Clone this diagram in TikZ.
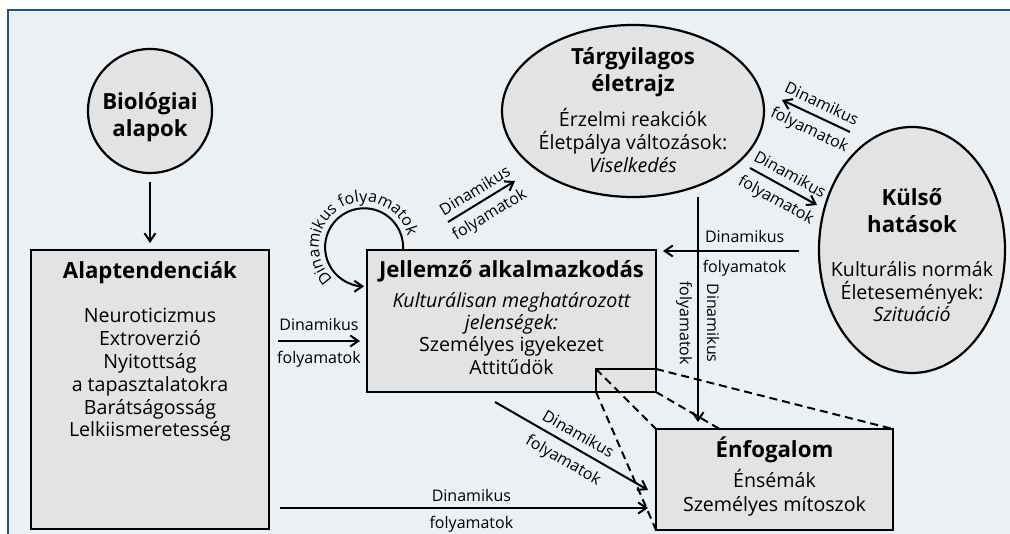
\documentclass[tikz,border=0pt]{standalone}
\usepackage{fontspec}
\setmainfont{Open Sans}
\usetikzlibrary{arrows.meta,shapes.geometric,decorations.text,calc}
\definecolor{bgpanel}{RGB}{236,240,243}
\definecolor{boxgrey}{RGB}{226,227,229}
\definecolor{frameblue}{RGB}{31,84,133}
\newcommand\fTitle{\fontsize{22.2}{26}\selectfont\bfseries}
\newcommand\fBody{\fontsize{19.6}{23}\selectfont}
\newcommand\fLbl{\fontsize{16}{18}\selectfont}
\pgfdeclarelayer{bg}
\pgfdeclarelayer{mid}
\pgfsetlayers{bg,mid,main}

\begin{document}
\begin{tikzpicture}[x=1pt,y=1pt,
  boxed/.style={draw, line width=2.6pt, fill=boxgrey, inner sep=0, outer sep=0},
  oval/.style={ellipse, draw, line width=2.2pt, fill=boxgrey, inner sep=0, outer sep=0},
  arr/.style={line width=2pt, -{Straight Barb[length=8pt,width=11pt]}},
  proj/.style={line width=2pt, dash pattern=on 8pt off 5pt},
  ttl/.style={anchor=base, inner sep=0, font=\fTitle},
  bdy/.style={anchor=base, inner sep=0, font=\fBody},
  lbl/.style={inner sep=0, outer sep=0, font=\fLbl},
  lblup/.style={lbl, sloped, anchor=south, outer sep=#1},
  lbldown/.style={lbl, sloped, anchor=north, outer sep=#1},
]
\useasboundingbox (0,0) rectangle (1010,534);

\begin{pgfonlayer}{bg}
  % page and panel
  \fill[white] (0,0) rectangle (1010,534);
  \fill[bgpanel] (8,0) rectangle (1010,524);
  \draw[frameblue, line width=2pt] (8,0) -- (8,524) -- (1010,524);
  % shapes
  \node[circle, draw, line width=2.2pt, fill=boxgrey, inner sep=0, outer sep=0, minimum size=124pt] (bio) at (150,423) {};
  \node[oval, minimum width=262pt, minimum height=172pt] (targy) at (633,423) {};
  \node[oval, minimum width=186pt, minimum height=246pt] (kulso) at (912,284) {};
  \node[boxed, minimum width=238pt, minimum height=279pt] (alap) at (150,144.5) {};
  \node[boxed, minimum width=289pt, minimum height=142pt] (jel) at (511.5,213) {};
  \node[draw, line width=2.6pt, inner sep=0, outer sep=0, minimum width=60pt, minimum height=23pt] (kicsi) at (626,153.5) {};
\end{pgfonlayer}

\node[boxed, minimum width=237pt, minimum height=101pt] (enf) at (774.5,54.5) {};

% magnified detail: corner lines from the small frame to the self-concept box
\begin{pgfonlayer}{mid}
  \draw[proj] (kicsi.north west) -- (enf.north west);
  \draw[proj] (kicsi.north east) -- (enf.north east);
  \draw[proj] (kicsi.south west) -- (enf.south west);
  \draw[proj] (kicsi.south east) -- (enf.south east);
\end{pgfonlayer}

% texts
\node[ttl] (bioT1) at (150,424) {Biológiai};
\node[ttl] (bioT2) at (150,397) {alapok};

\node[ttl] (alapT) at (150,255) {Alaptendenciák};
\node[bdy] (alap1) at (150,211) {Neuroticizmus};
\node[bdy] (alap2) at (150,188.2) {Extroverzió};
\node[bdy] (alap3) at (150,165.4) {Nyitottság};
\node[bdy] (alap4) at (150,142.6) {a tapasztalatokra};
\node[bdy] (alap5) at (150,119.8) {Barátságosság};
\node[bdy] (alap6) at (150,97) {Lelkiismeretesség};

\node[ttl] (jelT) at (511.5,256) {Jellemző alkalmazkodás};
\node[bdy] (jel1) at (511.5,226) {\itshape Kulturálisan meghatározott};
\node[bdy] (jel2) at (511.5,204) {\itshape jelenségek:};
\node[bdy] (jel3) at (511.5,182) {Személyes igyekezet};
\node[bdy] (jel4) at (511.5,159) {Attitűdök};

\node[ttl] (targyT1) at (633,469) {Tárgyilagos};
\node[ttl] (targyT2) at (633,442) {életrajz};
\node[bdy] (targy1) at (633,407) {Érzelmi reakciók};
\node[bdy] (targy2) at (633,384) {Életpálya változások:};
\node[bdy] (targy3) at (633,361) {\itshape Viselkedés};

\node[ttl] (kulsoT1) at (912,328) {Külső};
\node[ttl] (kulsoT2) at (912,301) {hatások};
\node[bdy] (kulso1) at (912,257) {Kulturális normák};
\node[bdy] (kulso2) at (912,234) {Életesemények:};
\node[bdy] (kulso3) at (912,212) {\itshape Szituáció};

\node[ttl] (enfT) at (774.5,76) {Énfogalom};
\node[bdy] (enf1) at (774.5,46) {Énsémák};
\node[bdy] (enf2) at (774.5,22) {Személyes mítoszok};

% connectors
\draw[arr] ([yshift=-9pt]bio.south) -- ([yshift=7pt]alap.north);

\draw[arr] ($(alap.east)+(9,48.5)$) -- ($(jel.west)+(-7,-20)$)
  node[midway, lbl, above=10pt] (l2a) {Dinamikus}
  node[midway, lbl, below=10pt] (l2b) {folyamatok};

% self loop on the adaptation box
\coordinate (lc) at ($(jel.north west)+(-3,3)$);
\draw[arr] ($(jel.north west)+(36,0)$) arc[start angle=-4, end angle=270, radius=39];
\path[decorate, decoration={text along path, text={|\fLbl|Dinamikus folyamatok}, text align=center}]
  ($(lc)+(240:45)$) arc[start angle=240, end angle=0, radius=45];

\draw[arr] ($(jel.north west)+(81,28)$) -- ($(targy.center)+(-118,-70)$)
  node[midway, lblup=7pt] (l4a) {Dinamikus}
  node[midway, lbldown=8pt] (l4b) {folyamatok};

\draw[arr] ($(kulso.center)+(-62,118)$) -- ($(targy.center)+(149,11)$)
  node[midway, lblup=8pt] (l5a) {Dinamikus}
  node[midway, lbldown=8pt] (l5b) {folyamatok};

\draw[arr] ($(targy.center)+(117,-57)$) -- ($(kulso.center)+(-95,45)$)
  node[midway, lblup=8pt] (l6a) {Dinamikus}
  node[midway, lbldown=8pt] (l6b) {folyamatok};

\draw[arr] ($(kulso.west)+(-20,-1)$) -- ($(jel.east)+(7,70)$)
  node[pos=0.4, lbl, above=8pt] (l7a) {Dinamikus}
  node[pos=0.4, lbl, below=9pt] (l7b) {folyamatok};

\coordinate (a8s) at ($(targy.center)+(65,-86)$);
\coordinate (a8e) at ($(enf.north)+(-76.5,7)$);
\draw[arr] (a8s) -- (a8e) coordinate[pos=0.56] (a8m);
\node[lbl, rotate=-90, anchor=south] (l8a) at ($(a8m)+(9,0)$) {Dinamikus};
\node[lbl, rotate=-90, anchor=north] (l8b) at ($(a8m)+(-6,0)$) {folyamatok};

\draw[arr] ($(jel.south)+(-16.5,-10)$) -- ($(enf.west)+(-8,-10.5)$)
  node[midway, lblup=8pt] (l9a) {Dinamikus}
  node[midway, lbldown=9pt] (l9b) {folyamatok};

\draw[arr] ($(alap.east)+(11,-118.5)$) -- ($(enf.west)+(-8,-28.5)$)
  node[pos=0.52, lbl, above=6pt] (l10a) {Dinamikus}
  node[pos=0.52, lbl, below=8pt] (l10b) {folyamatok};
\end{tikzpicture}
\end{document}
